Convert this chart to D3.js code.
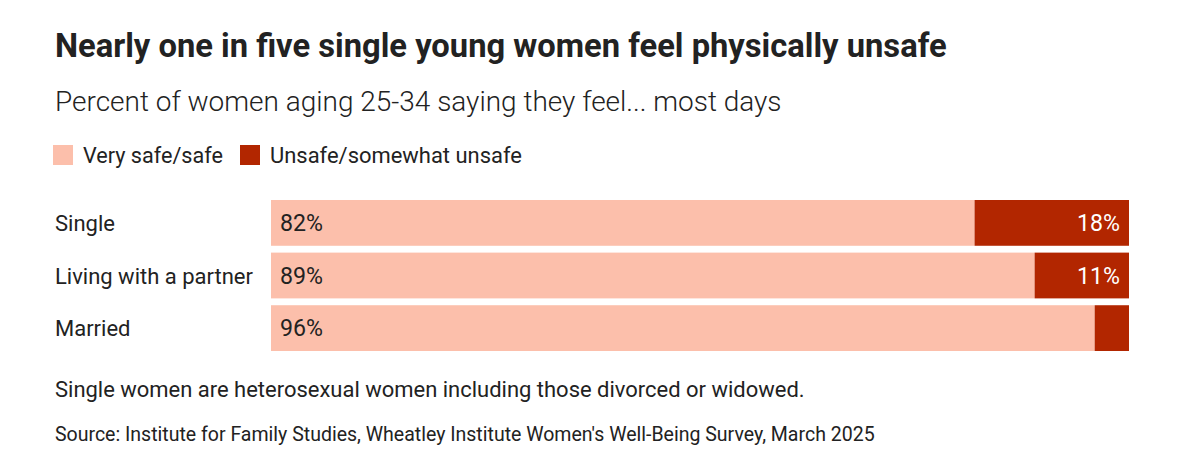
<!DOCTYPE html>
<html><head><meta charset="utf-8">
<script src="https://cdn.jsdelivr.net/npm/d3@7"></script>
<style>body{margin:0;background:#fff;} svg{display:block;} text{font-family:Roboto,"Noto Sans",sans-serif;fill:#222;}</style>
</head><body>
<script>
const categories = ["Single", "Living with a partner", "Married"];
const safeValues = [82, 89, 96];
const unsafeValues = [18, 11, 4];
const seriesNames = ["Very safe/safe", "Unsafe/somewhat unsafe"];
const colors = ["#fcbfab", "#b22600"];
const title = "Nearly one in five single young women feel physically unsafe";
const subtitle = "Percent of women aging 25-34 saying they feel... most days";
const note = "Single women are heterosexual women including those divorced or widowed.";
const source = "Source: Institute for Family Studies, Wheatley Institute Women's Well-Being Survey, March 2025";

const W = 1199, H = 473;
const svg = d3.select("body").append("svg").attr("width", W).attr("height", H);

function fit(sel, w){ const l = sel.node().getComputedTextLength(); const fs = parseFloat(sel.attr("font-size")); sel.attr("font-size", fs * w / l); return sel; }

fit(svg.append("text").attr("x", 55).attr("y", 57).attr("font-size", 27).attr("font-weight", 700).attr("fill","#222").text(title), 892);
fit(svg.append("text").attr("x", 55).attr("y", 111).attr("font-size", 23).attr("font-weight", 300).text(subtitle), 727);

// legend
const leg = svg.append("g");
const legX = [53, 240];
const legW = [140, 252];
seriesNames.forEach((n, i) => {
  leg.append("rect").attr("x", legX[i]).attr("y", 145).attr("width", 20).attr("height", 20).attr("fill", colors[i]);
  fit(leg.append("text").attr("x", legX[i] + 30).attr("y", 163).attr("font-size", 19).attr("font-weight", 400).attr("fill","#333").text(n), legW[i]);
});

const x = d3.scaleLinear().domain([0, 100]).range([271, 1129]);
const y = d3.scaleBand().domain(categories).range([200, 351]).paddingInner(0.13).paddingOuter(0);

const rows = categories.map((c, i) => ({c, s: safeValues[i], u: unsafeValues[i]}));
const g = svg.append("g");
g.selectAll(".safe").data(rows).join("rect").attr("x", x(0)).attr("y", d => y(d.c))
  .attr("width", d => x(d.s) - x(0)).attr("height", y.bandwidth()).attr("fill", colors[0]);
g.selectAll(".unsafe").data(rows).join("rect").attr("x", d => x(d.s)).attr("y", d => y(d.c))
  .attr("width", d => x(d.s + d.u) - x(d.s)).attr("height", y.bandwidth()).attr("fill", colors[1]);

const cats = g.selectAll(".cat").data(rows).join("text").attr("x", 55).attr("y", d => y(d.c) + y.bandwidth()/2 + 8)
  .attr("font-size", 20).attr("font-weight", 400).attr("fill","#333").text(d => d.c);
fit(cats.filter((d,i) => i === 1), 198);
const fsCat = cats.filter((d,i) => i === 1).attr("font-size");
cats.attr("font-size", fsCat);

const sl = g.selectAll(".sl").data(rows).join("text").attr("x", x(0) + 9).attr("y", d => y(d.c) + y.bandwidth()/2 + 8)
  .attr("font-size", 20).attr("font-weight", 400).attr("fill","#333").text(d => d.s + "%");
fit(sl.filter((d,i)=>i===0), 43);
sl.attr("font-size", sl.filter((d,i)=>i===0).attr("font-size"));
g.selectAll(".ul").data(rows.filter(d => d.u >= 10)).join("text").attr("x", x(100) - 9).attr("y", d => y(d.c) + y.bandwidth()/2 + 8)
  .attr("text-anchor", "end").attr("font-size", sl.attr("font-size")).style("fill", "#fff").text(d => d.u + "%");

fit(svg.append("text").attr("x", 55).attr("y", 397).attr("font-size", 19).attr("font-weight", 400).attr("fill","#333").text(note), 750);
fit(svg.append("text").attr("x", 55).attr("y", 441).attr("font-size", 16).attr("font-weight", 400).attr("fill","#333").text(source), 820);
</script>
</body></html>
